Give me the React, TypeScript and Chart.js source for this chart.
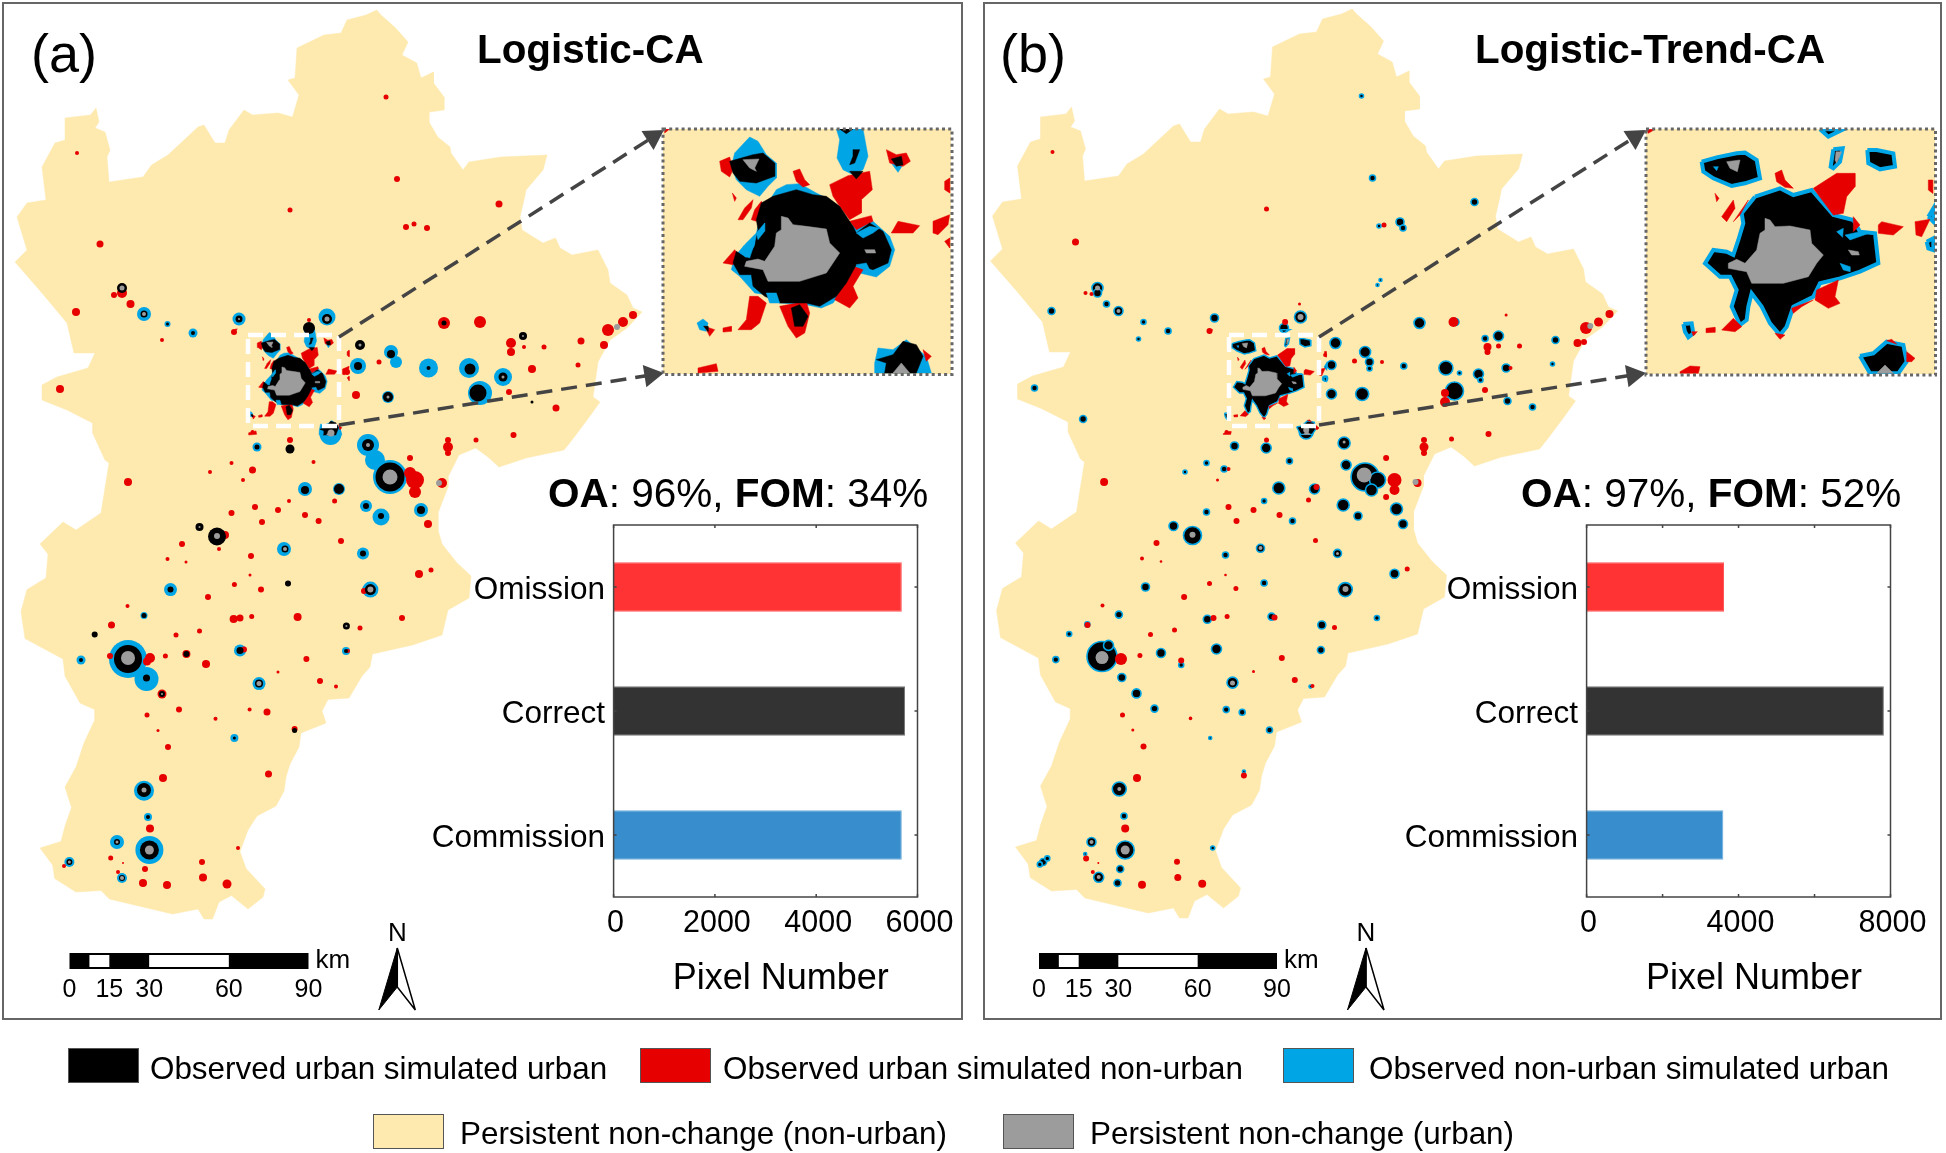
import React, { useEffect, useRef } from "react";
import { Chart, registerables } from "chart.js";

Chart.register(...registerables);

// ---------- bar data ----------
const barCategories = ["Omission", "Correct", "Commission"];
const barColors = ["#FF3333", "#333333", "#388ECC"];
const barValuesA = [5690, 5753, 5690];
const barValuesB = [3617, 7826, 3600];
const barMaxA = 6000;
const barMaxB = 8000;
const barLabelledA = [0, 2000, 4000, 6000];
const barLabelledB = [0, 4000, 8000];

// ---------- map data (map units) ----------
const mapOutline = [
  [376.7,10],[381,15],[395.6,28],[408,42],[402,55],[416.7,63],[421,78],[433.5,72],[433.5,83],[444,97],[444,110],[429,112],[429,122],[437.7,137],[450,147],[451,153],[463,170],[469,162],[501,157],[547,155],[543,170],[526,190],[524,200],[520,217],[522,230],[543,243],[555.5,238],[560,248],[572,255],[598,250],[608,270],[610,283],[627,295],[633,308],[642,312],[627,328],[610,340],[598,362],[593,397],[600,402],[587,420],[572,440],[564,450],[526,458],[499,467],[488,457],[475.6,448],[459,455],[448,477],[448,487],[438,513],[438,530],[442,544],[456.6,562.5],[471,576],[469,598],[448,610],[442,635],[412.5,645],[372.5,654],[370,667],[362,676],[349,698],[328,699.5],[322,711],[326,723],[301,733],[299,747],[290,764],[286,777],[284,791],[276,806],[257,816],[248,830],[240,851.6],[246,868.5],[265,889],[263,897],[248,909],[231.5,895.5],[219,902],[212.5,919],[204,919],[198,909],[172.6,914],[143,907],[109.4,899],[101,890.5],[76,892],[54.7,878.6],[52.6,865],[40,848],[61,841.5],[65,826],[71.5,807.6],[65,787],[76,767],[84,743],[94.7,720],[94.7,709.6],[80,703],[65,676],[63,659],[25,638.6],[21,611.6],[27,589.6],[46,578],[48,554],[40,544],[63,522],[76,530],[101,513],[109,463],[105,460],[92.6,433],[92.6,423],[67,410],[42,400],[42,385],[57,377],[88,368],[95,353],[74,353],[67,323],[42,293],[15,262],[27,250],[17,217],[27,203],[46,200],[42,167],[55,143],[65,140],[65,118],[90.5,115],[96,108],[99,122],[95,128],[105,132],[110,150],[107,157],[109,182],[143,177],[151.5,165],[168,155],[198,127],[204,125],[215,143],[225,143],[229,130],[244,110],[252.5,115],[278,113],[292.5,117],[299,95],[288,80],[295,78],[297,48],[324,35],[341,33],[347,20],[366,15],[376.7,10],
];

const blueA = [
  [144,314,7],[167.5,324,3],[193,333,4.5],[239,319,6.5],[311,343,6],[327,317,8.5],[269,347,9],[391,352,7],[396,362,6],[358,366,8],[428.5,368,9.5],[469,368,10],[503,377,9],[480,393,12],[388,397,6],[330.5,434,11],[368,445,11],[257,447,4.5],[287,383,25],[270,390,8],[320,383,10],[375,460,10],[390,477,17],[305,489,7],[339,489,6],[366,506,6],[381,517,8.5],[421,510,7],[284,549,7],[363,553.4,6],[170.5,589.6,6.5],[370.4,589.6,8],[144,615.6,3.5],[128,659,19],[81,660,4.5],[240,650.4,6],[346,651,4],[146.5,679,12],[259,683.6,6.5],[234.4,738,4],[144,790.7,10],[148,817,4],[117,842,7],[149.4,850,14],[69.4,862,5],[122,878,5],
];
const redA = [
  [77,153,2],[386,97,2.5],[397,179,3],[499,204,3.5],[290,210,2.5],[100,244,3.5],[406,227,3],[414,224,2.5],[427,228,3],[76,312,4],[130.5,304,4],[114,295,3],[122,293,5],[162,340,2],[234,332,3],[60,389,4],[444,323,6],[480,322,6],[511,343,5],[511,352,4],[544,347,2.5],[581,341,3.5],[604,345,4],[608,330,6],[623,322,5],[633,315,4],[532,369,4],[524,347,2],[578,365,2.5],[509,392,3],[556,408,3.5],[513.5,435,3],[476,440,2.5],[448,447,5],[448,440,3],[448,453,3],[410,458,3],[356,395,4],[347,372,3],[379,362,2.5],[252.5,432,2],[231.5,463,2],[210,472,2],[252.5,470,3.5],[243,480,2],[128,482,4],[313.5,462,2],[290,440,3],[415,480,9],[410,473,6],[415,492,6],[442,483,5],[278,510,3],[289,501,2],[255,507,3],[231.5,513,3],[305,515,3],[334.6,501,2.5],[339,487,3],[309,320,2],[330,347,4],[309,360,8],[263,367,2.5],[269.4,408,4],[286,413,5],[309,402,5],[324,375,3],[252.5,417,2],[259,416,1.5],[428,524,4],[318.6,521,3],[262,522,3],[182,544,3],[167.5,559,2],[186,562,1.5],[251,556,3],[341,541,3],[225,535,4],[219,549,2],[419,574,4],[431,570,2.5],[234.4,584.5,2.5],[250,575,1.5],[261,589.6,3],[208,597,3],[364,591,3],[127.5,606,2],[111.5,625,3.5],[176,635,2.5],[199.5,631,2.5],[233.6,619,4],[240,618,3.5],[251.7,616.6,2.5],[297.6,617,4],[360,628,2.5],[402,618,3],[150,658,5],[147,661.6,4],[110,656,3],[165.4,656,2.5],[186.4,654,4],[206,664,4],[244,649.4,3],[306.4,659,3],[348,651,2],[162,694,4.5],[278,672,1.5],[320,681,3],[336,686.6,2],[147,715,2.5],[179,709.6,3],[215.5,718.7,2],[249.6,709.6,2],[267,712,3.5],[294.6,729,3],[158,730.6,1.5],[168,747,3],[163,778,4],[268.5,774,3.5],[150,828.6,4],[110.7,858,2.5],[64,866,2],[238,848,2],[202,862,3],[123,863,1],[145,869,3],[118,872,2],[143,883,4],[167,885,4],[203,877.6,4],[227,884,4.5],
];
const blackA = [
  [122,288,5],[144,314,3.5],[167.5,324,1.5],[193,333,2],[239,319,3.5],[309,328,6],[327,319,5],[269,349,7],[330,347,2.5],[360,345,5],[391,354,4],[358,366,4],[428.5,368,2],[470,369,5.5],[503,377,4.5],[478,393,8.5],[523,336,4],[444,323,2.5],[388,397,5],[532,402,1.5],[330.5,429,5],[368,445,6],[257,447,2.5],[290,449,4.5],[292,382,22],[265,388,6],[288,408,6],[318.6,383,8.5],[390,477,14.5],[305,490,4],[339,489,5],[366,506,3],[381,516,3],[421,510,4],[199.5,527,4],[217,536.5,9],[285,549,3.5],[363,553.4,3],[170.5,589.6,3],[288,583.5,3],[370.4,589.6,5.5],[144,615.6,2.5],[94.7,634.5,3],[346.4,626,3.5],[128,659,14],[81,660,2],[186.4,654,3],[240,650.4,3.5],[346,651,2],[146.5,678,3.5],[162,694,3],[259,683.6,4],[294.6,730.6,2.5],[234.4,738,1.5],[144,790,7],[148,817,2],[117,842,3],[149.4,850,9.5],[69.4,862,3],[122,878,3],
];
const grayA = [
  [122,288,2.5],[144,314,2],[239,319,1],[327,319,2.5],[269,348,2.5],[360,345,1.5],[503,377,1.5],[523,336,1],[388,397,1.5],[617,327,3],[331,433,3.5],[368,445,2],[286,385,11.5],[295,382,9],[319,383,1.5],[390,477,7.5],[439,483,3],[199.5,527,1],[217,536,3],[285,549,2],[370.4,589.6,3],[346.4,626,1],[128,658,7],[259,683.6,2.5],[162,694,1],[144,790,2.5],[117,842,1.5],[149.4,850,4.5],[69.4,862,1.5],[122,878,2],
];

const redB = [
  [77,153,2],[291,210,2.5],[100,243,3.5],[408.5,226,2.5],[234,332,3],[379,362,2.5],[406.5,363,2],[523,347,2.5],[544,347,2.5],[602,344,4],[608.5,343,3],[512,348,4],[512,353,3],[509.5,391,3],[476,440,2.5],[513,435,3],[448.5,448,4.5],[448.5,441,3],[448.5,454,3],[410.6,459,3],[478,323,5],[610.5,329,6],[623,323,4.5],[634,315,4],[535,369,2],[530.6,316,1.5],[469.5,403,5],[469.5,394,4],[419,481,7],[419,491,5],[410.6,498,3],[442,484,4],[128.6,483,4],[253,508,3],[278,511,3],[304,516,3],[333,501,2.5],[341,488,3],[110,294,2],[116,295,2],[251,433,2],[242,481,1.5],[253,470,2],[291,441,2.5],[309.6,323,3],[324,305,1.5],[349.6,356,2],[309.6,359,7],[328.6,374,4],[307.5,401,5],[267,366,2.5],[269.6,413,3],
  [261,522,3],[181,544,3],[166.5,559.5,2],[185.5,562.5,1.3],[340,541.6,2.5],[431.7,570,2.5],[234,584.5,2.5],[250,576,1.3],[260.4,589.6,2.5],[208.6,598,3],[127,606.5,2],[112,626,3],[175,635.6,2.5],[199,631,2.5],[238,619,3],[251.6,617.6,2.5],[299,618.6,3],[359,628.4,2.5],[164.4,656.5,2.5],[205.7,661.6,3],[306.3,659,3],[145.5,660,6],[278,672.4,1.5],[319.3,681,3],[337,687,2],[147,716,2.5],[215,719.4,1.8],[157.3,731,1.5],[168,747.5,3],[161.5,779,4],[268.4,776.5,3],[149.7,829.6,4],[110.6,859.4,3],[201.5,862.7,3],[122.8,864,1],[117.3,873,2],[202.3,878.6,3.5],[166.5,885.7,4],[226.7,884.7,4],
];
const blackB = [
  [386,97,2],[397,179,3],[499,203,3.5],[424.5,223,4],[427.5,229,3],[403.5,227,2],[402,286,1.5],[405,281,1.5],[122,289,5.5],[122,294,4],[76,312,3.5],[131,305,3],[143,312,4.5],[168,323,2.5],[163,340,2],[192.6,332,3],[239,319,4],[308.5,329,4.5],[325,318,6],[59,389,3],[107.6,420,3.5],[267.5,349,7.5],[261,349,5],[274,349,5],[311,343,1.5],[329.4,345,4.5],[360,344,5.5],[389.6,353,5.5],[394,363,4],[394,369.5,2.5],[356,366,4.5],[349.6,379.5,2.5],[356,395,5],[386.7,395,6.5],[428.3,367,3],[444,324,5.5],[480,323,3.5],[523,337,5],[509.6,339.5,3],[580,341,3.5],[470.4,369,7],[484,374,2],[503,375,5],[505,381,2.5],[530.6,369,4],[577,365,2],[479,392,9],[532,402,3.5],[557,408,3],[330.7,433,7],[368.6,444,6],[259,447,4],[290.7,449,5],[314,462,3],[231,464,2.5],[209.5,473,2],[248.6,470,3],[303.3,489,6],[339,490,5],[288.6,502,2.5],[231,513,3],[367.7,506,6],[382.5,517,4],[421,510,6],[389.6,478,14],[370.6,466,5],[402,481,8],[396,491,6],[288.6,383,25],[318,384.3,8],[261,388,5.5],[287.3,408,8],[287,414,3.5],[270.5,406,3.5],
  [427.5,525,4.5],[198,527,4.5],[217,536.5,9],[317,522,3],[250,556,3],[285,549.3,4],[362,554.4,4],[419,574.7,4.5],[170,588,4],[288.6,584,3],[369.8,590.6,7],[143.4,615.6,3.5],[231.8,620.3,4],[296,617.6,3.5],[346.3,626,4],[401.4,619,2.5],[93.7,635,2.5],[111.8,625.4,2.5],[80.3,660.6,3],[126.5,657.5,15],[133,646.4,5],[185.5,654,4.5],[241,650,5],[345.4,651,3.5],[205.7,666,2.5],[146.3,678.5,4],[161,694.4,4.5],[257,683.6,5.5],[335,687.6,1.5],[179,709.6,3.5],[250.7,710.6,3],[266.7,713.3,3],[294,731,3],[234.7,739,1.5],[143.8,790,7],[268.4,772.5,1.5],[148.5,817,3],[116,843,4.5],[149.7,851,9],[237.2,849,2],[109.7,855,1.5],[67.6,863,3.5],[64.3,865.4,2.5],[71.8,859.4,2.5],[144.7,870,3.5],[123.2,878.3,5],[142,884,3.5],
];
const grayB = [
  [122,289,2.5],[143,312,2],[325,318,3],[267.5,348,2.5],[330.7,431,3],[368.6,443,1.5],[614.8,327,3],[388.7,476,7.5],[440,483,3],[282.3,383.5,12],[293,386,8],[217,535.8,3],[285,549,2],[362,554.4,1.5],[370,590,3],[126.5,658.6,6.5],[257,684,2.5],[143.8,790,2],[149.7,851,4.5],[116,843,2],[123.2,878,2],
];

// dashed zoom rectangles and leader arrows, map units
const zoomBoxA = [[248,335],[339,335],[339,426],[248,426],[248,335]];
const leadersA = [[[339,337],[653,137]],[[339,425],[651,375]]];
const zoomBoxB = [[253.5,336],[343.5,336],[343.5,427],[253.5,427],[253.5,336]];
const leadersB = [[[343.5,338],[659.5,138]],[[343.5,426],[657.7,376]]];

// the extent each inset shows, in inset units, and where that extent falls on the map
const insetExtentA = [70, 932, 88, 820];
const insetExtentB = [78, 945, 87, 822];
const insetFootprintA = [[234.7,329],[349.4,435]];
const insetFootprintB = [[233.8,330.6],[351.7,435.7]];

// ---------- inset data ----------
const insetABlue = [
  [[330,112],[355,125],[380,165],[410,190],[410,235],[385,260],[360,290],[320,270],[290,240],[275,200],[285,160]],
  [[590,88],[670,88],[685,170],[670,210],[640,225],[610,210],[592,175],[600,120]],
  [[410,270],[440,255],[480,252],[530,280],[570,300],[640,380],[700,365],[750,410],[765,450],[750,500],[710,532],[660,520],[640,530],[580,610],[545,625],[500,615],[420,610],[380,585],[345,580],[300,530],[275,510],[285,470],[320,430],[350,400],[365,340]],
  [[715,745],[760,750],[800,720],[860,770],[875,820],[705,820],[705,790]],
  [[172,670],[190,658],[205,670],[200,695],[180,690]],
  [[755,190],[790,195],[775,218]],
];
const insetARed = [
  [[740,150],[770,165],[800,160],[812,185],[790,200],[750,190]],
  [[240,185],[270,172],[280,210],[270,232],[245,215]],
  [[460,215],[480,208],[495,240],[510,255],[490,262],[470,245]],
  [[570,255],[625,228],[690,215],[698,270],[665,300],[665,340],[630,360],[600,320],[580,290]],
  [[630,365],[695,348],[700,365],[650,390]],
  [[755,400],[775,365],[840,378],[820,400],[770,400]],
  [[880,365],[930,345],[925,375],[895,405],[880,400]],
  [[915,245],[930,235],[930,280],[915,270]],
  [[915,425],[930,415],[930,445]],
  [[345,330],[365,305],[375,320],[350,365],[335,360]],
  [[295,360],[315,325],[340,300],[335,325],[310,360]],
  [[278,280],[290,295],[285,305]],
  [[250,490],[285,450],[300,470],[280,495]],
  [[330,590],[355,590],[380,610],[360,670],[335,690],[295,690],[320,660]],
  [[250,685],[275,680],[275,695],[252,697]],
  [[195,680],[225,690],[210,710]],
  [[420,620],[500,605],[510,640],[495,700],[470,715],[445,680]],
  [[585,600],[640,500],[670,510],[640,560],[655,595],[630,625]],
  [[175,805],[230,792],[235,815],[175,820]],
  [[850,750],[875,770],[860,785]],
  [[75,88],[90,88],[75,100]],
];
const insetABlack = [
  [[270,185],[340,165],[370,160],[405,190],[405,230],[350,250],[300,245],[280,220]],
  [[365,310],[400,290],[470,270],[520,285],[560,290],[600,320],[640,380],[650,400],[690,370],[730,395],[755,450],[745,490],[700,510],[650,495],[620,550],[590,590],[540,620],[500,610],[420,610],[375,590],[340,560],[335,525],[300,525],[280,490],[290,455],[320,475],[345,440],[355,390],[350,360]],
  [[455,625],[480,615],[505,650],[490,680],[465,680]],
  [[630,215],[670,215],[650,238]],
  [[755,178],[785,170],[790,195],[770,200]],
  [[710,780],[760,765],[790,725],[830,735],[850,770],[830,820],[735,820],[740,790]],
  [[600,88],[640,88],[620,102]],
  [[192,680],[205,680],[205,695]],
];
const insetAGray = [
  [[425,350],[445,355],[460,375],[500,380],[560,388],[570,430],[600,460],[580,490],[560,520],[480,545],[385,545],[370,510],[315,500],[320,485],[355,478],[375,485],[405,440],[410,400],[425,390]],
  [[310,180],[358,178],[345,205],[350,215],[330,205]],
  [[675,450],[705,450],[708,460],[680,460]],
  [[760,820],[785,790],[810,820]],
];
const insetAChips = [
  [[650,400],[690,380],[720,385],[700,400],[670,415]],
  [[650,495],[680,490],[690,510],[665,505]],
  [[350,400],[375,370],[375,395],[355,420]],
  [[310,440],[345,430],[330,475],[315,470]],
  [[380,580],[410,580],[420,610],[390,610]],
];
const insetAMarks = [
  [[640,150],[660,150],[645,190],[630,195],[640,170]],
];

const insetBBlack = [
  [[245,185],[290,172],[350,160],[375,158],[410,180],[420,235],[375,250],[335,258],[280,235],[250,215]],
  [[405,290],[480,265],[520,285],[575,270],[640,345],[700,360],[720,395],[765,400],[775,490],[720,515],[660,535],[600,550],[580,590],[520,620],[500,680],[480,705],[450,670],[425,620],[395,580],[385,620],[380,660],[360,675],[335,620],[350,570],[330,530],[300,530],[255,490],[280,450],[320,455],[340,465],[355,420],[370,370],[365,340]],
  [[640,148],[668,145],[660,185],[640,205],[632,200]],
  [[742,150],[770,150],[820,160],[825,200],[780,208],[745,190]],
  [[600,88],[670,88],[625,110]],
  [[190,672],[215,670],[220,700],[205,712],[195,695]],
  [[720,768],[760,760],[800,725],[850,735],[860,785],[835,820],[750,820]],
  [[920,425],[940,415],[940,450],[925,445]],
  [[925,350],[940,325],[940,365]],
];
const insetBRed = [
  [[580,265],[650,220],[705,220],[705,260],[680,290],[670,340],[640,345]],
  [[465,220],[485,210],[495,240],[520,265],[495,262],[470,245]],
  [[285,280],[297,295],[290,305]],
  [[340,365],[385,300],[360,345]],
  [[305,350],[340,300],[345,325],[320,365]],
  [[775,375],[785,365],[850,380],[820,405],[775,400]],
  [[885,365],[930,358],[905,410],[888,405]],
  [[925,240],[938,240],[938,280],[925,270]],
  [[590,570],[655,540],[645,590],[660,610],[625,625],[585,600]],
  [[515,625],[580,600],[545,620],[520,640]],
  [[305,690],[340,655],[365,680],[345,695]],
  [[258,685],[285,682],[285,697],[260,698]],
  [[180,815],[210,798],[240,800],[235,820],[180,820]],
  [[860,755],[885,775],[875,785],[860,785]],
  [[700,350],[720,375],[700,395]],
  [[80,88],[105,88],[85,100]],
  [[465,700],[495,705],[480,718]],
  [[800,722],[815,718],[830,732]],
  [[215,695],[232,695],[220,708]],
];
const insetBGray = [
  [[435,355],[450,360],[465,380],[510,378],[570,390],[575,430],[610,465],[590,490],[565,530],[490,550],[395,550],[380,515],[325,505],[325,490],[350,478],[375,490],[410,450],[420,400],[435,390]],
  [[320,185],[360,180],[352,215],[330,205]],
  [[685,450],[715,455],[718,465],[695,465]],
  [[770,820],[795,795],[820,820]],
  [[648,155],[665,155],[650,190],[645,180]],
];
const insetBChips = [
  [[650,395],[670,385],[668,412]],
  [[675,405],[720,395],[760,395],[690,420]],
  [[660,490],[690,500],[690,515],[670,510]],
  [[280,200],[295,200],[290,212]],
];

const scaleKm = [0, 15, 30, 60, 90];
const legendRow1 = [
  { label: "Observed urban simulated urban", color: "#000000", sx: 68, tx: 150 },
  { label: "Observed urban simulated non-urban", color: "#E60000", sx: 640, tx: 723 },
  { label: "Observed non-urban simulated urban", color: "#00A5E6", sx: 1283, tx: 1369 },
];
const legendRow2 = [
  { label: "Persistent non-change (non-urban)", color: "#FEE9AE", sx: 373, tx: 460 },
  { label: "Persistent non-change (urban)", color: "#9C9C9C", sx: 1003, tx: 1090 },
];

// ---------- colours ----------
const LAND = "#FEE9AE";
const RED = "#E60000";
const BLUE = "#00A5E6";
const GRAY = "#9C9C9C";
const FONT = '"Liberation Sans", Arial, sans-serif';

// ---------- dataset helpers ----------
const xy = (pts: number[][]) => pts.map(([x, y]) => ({ x, y }));
const polygon = (pts: number[][], color: string, rim?: string, rimWidth = 4) => ({
  type: "line",
  data: xy([...pts, pts[0]]),
  fill: "shape",
  backgroundColor: color,
  borderColor: rim || color,
  borderWidth: rim ? rimWidth : 0.5,
  pointRadius: 0,
  tension: 0,
});
const bubbles = (pts: number[][], color: string, rim?: string) => ({
  type: "bubble",
  data: pts.map(([x, y, r]) => ({ x, y, r })),
  backgroundColor: color,
  borderColor: rim || color,
  borderWidth: rim ? 1.6 : 0,
  hoverRadius: 0,
});
const dashed = (pts: number[][], color: string, width: number, dash: number[]) => ({
  type: "line",
  data: xy(pts),
  fill: false,
  borderColor: color,
  borderWidth: width,
  borderDash: dash,
  pointRadius: 0,
  tension: 0,
});
const leader = (pts: number[][]) => {
  const [a, b] = pts;
  const rotation = (Math.atan2(b[0] - a[0], a[1] - b[1]) * 180) / Math.PI;
  return {
    ...dashed(pts, "#444444", 3.5, [16, 9]),
    pointRadius: [0, 13],
    pointStyle: "triangle",
    pointRotation: rotation,
    pointBackgroundColor: "#444444",
    pointBorderWidth: 0,
  };
};
const stack = (sets: any[]) => {
  sets.forEach((d, i) => (d.order = sets.length - i));
  return sets;
};

// The inset is an enlargement of the dashed area, so its shapes also sit on the map there.
const boxBounds = (box: number[][]) => {
  const xs = box.map((p) => p[0]);
  const ys = box.map((p) => p[1]);
  return [Math.min(...xs), Math.max(...xs), Math.min(...ys), Math.max(...ys)];
};
const insetToMap = (shape: number[][], ext: number[], box: number[][]) => {
  const [bx0, bx1, by0, by1] = boxBounds(box);
  return shape.map(([x, y]) => [
    bx0 + ((x - ext[0]) / (ext[1] - ext[0])) * (bx1 - bx0),
    by0 + ((y - ext[2]) / (ext[3] - ext[2])) * (by1 - by0),
  ]);
};
const outsideBox = (pts: number[][], box: number[][]) => {
  const [bx0, bx1, by0, by1] = boxBounds(box);
  return pts.filter(([x, y]) => x < bx0 || x > bx1 || y < by0 || y > by1);
};

const surfaceOptions = (xmin: number, xmax: number, ymin: number, ymax: number) => ({
  responsive: false,
  devicePixelRatio: 1,
  animation: false,
  events: [],
  layout: { padding: 0, autoPadding: false },
  plugins: { legend: { display: false }, tooltip: { enabled: false } },
  scales: {
    x: { type: "linear", display: false, min: xmin, max: xmax },
    y: { type: "linear", display: false, min: ymin, max: ymax, reverse: true },
  },
});

const mapConfig = (layers: any[], xmin: number, ymin: number) => ({
  type: "bubble",
  data: { datasets: stack(layers) },
  options: surfaceOptions(xmin, xmin + 970, ymin, ymin + 1025),
});

const insetConfig = (layers: any[], xmin: number, xmax: number, ymin: number, ymax: number) => ({
  type: "bubble",
  data: { datasets: stack(layers) },
  options: surfaceOptions(xmin, xmax, ymin, ymax),
});

const framePlugin = {
  id: "frame",
  afterDraw(chart: any) {
    const { ctx, chartArea: a, scales } = chart;
    ctx.save();
    ctx.strokeStyle = "#444444";
    ctx.lineWidth = 1.5;
    ctx.strokeRect(a.left, a.top, a.right - a.left, a.bottom - a.top);
    ctx.beginPath();
    scales.x.ticks.forEach((t: any) => {
      const p = scales.x.getPixelForValue(t.value);
      ctx.moveTo(p, a.top);
      ctx.lineTo(p, a.top + 3);
      ctx.moveTo(p, a.bottom);
      ctx.lineTo(p, a.bottom - 3);
    });
    scales.y.ticks.forEach((_: any, i: number) => {
      const p = scales.y.getPixelForTick(i);
      ctx.moveTo(a.left, p);
      ctx.lineTo(a.left + 3, p);
      ctx.moveTo(a.right, p);
      ctx.lineTo(a.right - 3, p);
    });
    ctx.stroke();
    ctx.restore();
  },
};

const barConfig = (values: number[], max: number, labelled: number[]) => ({
  type: "bar",
  data: {
    labels: barCategories,
    datasets: [
      {
        data: values,
        backgroundColor: barColors,
        borderColor: ["#FF5555", "#777777", "#6FAEDC"],
        borderWidth: 1,
        barPercentage: 0.4,
        categoryPercentage: 1,
      },
    ],
  },
  plugins: [framePlugin],
  options: {
    indexAxis: "y",
    responsive: false,
    devicePixelRatio: 1,
    animation: false,
    events: [],
    layout: { autoPadding: false, padding: { top: 15, right: 42.5, left: 0, bottom: 0 } },
    plugins: { legend: { display: false }, tooltip: { enabled: false } },
    scales: {
      x: {
        min: 0,
        max,
        grid: { display: false, drawTicks: false },
        border: { display: false },
        afterFit: (s: any) => {
          s.height = 118;
        },
        ticks: {
          stepSize: 2000,
          padding: 8,
          labelOffset: 2,
          maxRotation: 0,
          autoSkip: false,
          color: "#000",
          font: { family: FONT, size: 30.5 },
          callback: (v: number) => (labelled.includes(v) ? String(v) : ""),
        },
      },
      y: {
        grid: { display: false, drawTicks: false },
        border: { display: false },
        afterFit: (s: any) => {
          s.width = 193.6;
          s.paddingTop = 0;
          s.paddingBottom = 0;
        },
        ticks: {
          padding: 8.5,
          labelOffset: 3,
          color: "#000",
          autoSkip: false,
          font: { family: FONT, size: 31.5 },
        },
      },
    },
  },
});

// ---------- components ----------
function ChartBox({ config, left, top, width, height }: any) {
  const ref = useRef<HTMLCanvasElement>(null);
  useEffect(() => {
    const chart = new Chart(ref.current as any, config());
    return () => chart.destroy();
  }, []);
  return (
    <canvas
      ref={ref}
      width={width}
      height={height}
      style={{ position: "absolute", left, top, width, height, display: "block" }}
    />
  );
}

function Txt({ x, cy, size, center, bold, children }: any) {
  return (
    <div
      style={{
        position: "absolute",
        left: x,
        top: cy - size / 2,
        fontFamily: FONT,
        fontSize: size,
        lineHeight: `${size}px`,
        fontWeight: bold ? 700 : 400,
        color: "#000",
        whiteSpace: "nowrap",
        transform: center ? "translateX(-50%)" : undefined,
      }}
    >
      {children}
    </div>
  );
}

function Decor({ x0, x1, northX }: any) {
  const k = (x1 - x0) / 90;
  const seg = (a: number, b: number) => (
    <rect x={x0 + a * k} y={955} width={(b - a) * k} height={12} fill="#fff" />
  );
  return (
    <>
      <svg width={1946} height={1153} style={{ position: "absolute", left: 0, top: 0 }}>
        <rect x={x0} y={953} width={x1 - x0} height={16} fill="#000" />
        {seg(7.5, 15)}
        {seg(30, 60)}
        <polygon points={`${northX},948 ${northX + 18},1010 ${northX},987`} fill="#fff" stroke="#000" strokeWidth={1.5} />
        <polygon points={`${northX},948 ${northX - 18.5},1010 ${northX},987`} fill="#000" stroke="#000" strokeWidth={1} />
      </svg>
      {scaleKm.map((km) => (
        <Txt key={km} x={x0 + km * k} cy={988.5} size={25} center>
          {km}
        </Txt>
      ))}
      <Txt x={x1 + 7} cy={959} size={26}>
        km
      </Txt>
      <Txt x={northX} cy={931.5} size={26} center>
        N
      </Txt>
    </>
  );
}

function Panel({ x, w }: any) {
  return (
    <div
      style={{
        position: "absolute",
        left: x,
        top: 1.5,
        width: w,
        height: 1018,
        border: "2px solid #666",
        boxSizing: "border-box",
      }}
    />
  );
}

function Dotted({ x, y, w, h }: any) {
  return (
    <svg width={w + 6} height={h + 6} style={{ position: "absolute", left: x - 3, top: y - 3 }}>
      <rect x={3} y={3} width={w} height={h} fill="none" stroke="#666" strokeWidth={3} strokeDasharray="3 3.2" />
    </svg>
  );
}

function Legend({ items, y, h, cy }: any) {
  return items.map((it: any) => (
    <React.Fragment key={it.label}>
      <div
        style={{
          position: "absolute",
          left: it.sx,
          top: y,
          width: 71,
          height: h,
          background: it.color,
          border: "1.5px solid #555",
          boxSizing: "border-box",
        }}
      />
      <Txt x={it.tx} cy={cy} size={31.4}>
        {it.label}
      </Txt>
    </React.Fragment>
  ));
}

export default function App() {
  const onMapA = (shapes: number[][][], color: string) =>
    shapes.map((s) => polygon(insetToMap(s, insetExtentA, insetFootprintA), color));
  const onMapB = (shapes: number[][][], color: string, rim?: string) =>
    shapes.map((s) => polygon(insetToMap(s, insetExtentB, insetFootprintB), color, rim, 1.4));

  const mapA = () =>
    mapConfig(
      [
        polygon(mapOutline, LAND),
        bubbles(outsideBox(blueA, zoomBoxA), BLUE),
        ...onMapA(insetABlue, BLUE),
        bubbles(outsideBox(redA, zoomBoxA), RED),
        ...onMapA(insetARed, RED),
        bubbles(outsideBox(blackA, zoomBoxA), "#000"),
        ...onMapA(insetABlack, "#000"),
        bubbles(outsideBox(grayA, zoomBoxA), GRAY),
        ...onMapA(insetAGray, GRAY),
        ...onMapA(insetAChips, BLUE),
        ...onMapA(insetAMarks, "#000"),
        dashed(zoomBoxA, "#fff", 4.5, [15, 8]),
        leader(leadersA[0]),
        leader(leadersA[1]),
      ],
      0,
      0
    );
  const mapB = () =>
    mapConfig(
      [
        polygon(mapOutline, LAND),
        bubbles(outsideBox(blackB, zoomBoxB), "#000", BLUE),
        ...onMapB(insetBBlack, "#000", BLUE),
        bubbles(outsideBox(redB, zoomBoxB), RED),
        ...onMapB(insetBRed, RED),
        bubbles(outsideBox(grayB, zoomBoxB), GRAY),
        ...onMapB(insetBGray, GRAY),
        ...onMapB(insetBChips, BLUE),
        dashed(zoomBoxB, "#fff", 4.5, [15, 8]),
        leader(leadersB[0]),
        leader(leadersB[1]),
      ],
      -0.5,
      1
    );
  const insetA = () =>
    insetConfig(
      [
        ...insetABlue.map((p) => polygon(p, BLUE)),
        ...insetARed.map((p) => polygon(p, RED)),
        ...insetABlack.map((p) => polygon(p, "#000")),
        ...insetAGray.map((p) => polygon(p, GRAY)),
        ...insetAChips.map((p) => polygon(p, BLUE)),
        ...insetAMarks.map((p) => polygon(p, "#000")),
      ],
      70,
      934,
      88,
      823
    );
  const insetB = () =>
    insetConfig(
      [
        ...insetBBlack.map((p) => polygon(p, "#000", BLUE)),
        ...insetBRed.map((p) => polygon(p, RED)),
        ...insetBGray.map((p) => polygon(p, GRAY)),
        ...insetBChips.map((p) => polygon(p, BLUE)),
      ],
      78,
      945,
      87,
      822
    );

  return (
    <div style={{ position: "absolute", left: 0, top: 0, width: 1946, height: 1153, overflow: "hidden", background: "#fff" }}>
      <Panel x={1.5} w={961} />
      <Panel x={982.5} w={959} />
      <ChartBox config={mapA} left={0} top={0} width={970} height={1025} />
      <ChartBox config={mapB} left={975} top={0} width={970} height={1025} />
      <div style={{ position: "absolute", left: 663, top: 129, width: 288, height: 245, background: LAND }} />
      <div style={{ position: "absolute", left: 1646, top: 129, width: 289, height: 245, background: LAND }} />
      <ChartBox config={insetA} left={663} top={129} width={288} height={245} />
      <ChartBox config={insetB} left={1646} top={129} width={289} height={245} />
      <Dotted x={663} y={128.5} w={289} h={245.5} />
      <Dotted x={1645.5} y={128.5} w={289.5} h={246} />
      <ChartBox config={() => barConfig(barValuesA, barMaxA, barLabelledA)} left={420} top={510} width={540} height={505} />
      <ChartBox config={() => barConfig(barValuesB, barMaxB, barLabelledB)} left={1393.4} top={510} width={540} height={505} />

      <Txt x={31} cy={53} size={54}>(a)</Txt>
      <Txt x={1000} cy={53} size={54}>(b)</Txt>
      <Txt x={477} cy={49} size={40.4} bold>Logistic-CA</Txt>
      <Txt x={1475} cy={49} size={40.4} bold>Logistic-Trend-CA</Txt>
      <Txt x={548} cy={493} size={40.5}><b>OA</b>: 96%, <b>FOM</b>: 34%</Txt>
      <Txt x={1521} cy={493} size={40.5}><b>OA</b>: 97%, <b>FOM</b>: 52%</Txt>
      <Txt x={780.7} cy={977} size={36} center>Pixel Number</Txt>
      <Txt x={1754} cy={977} size={36} center>Pixel Number</Txt>

      <Decor x0={69.5} x1={308.5} northX={397.3} />
      <Decor x0={1039} x1={1277} northX={1366} />

      <Legend items={legendRow1} y={1048} h={35} cy={1069} />
      <Legend items={legendRow2} y={1114} h={35} cy={1134} />
    </div>
  );
}
